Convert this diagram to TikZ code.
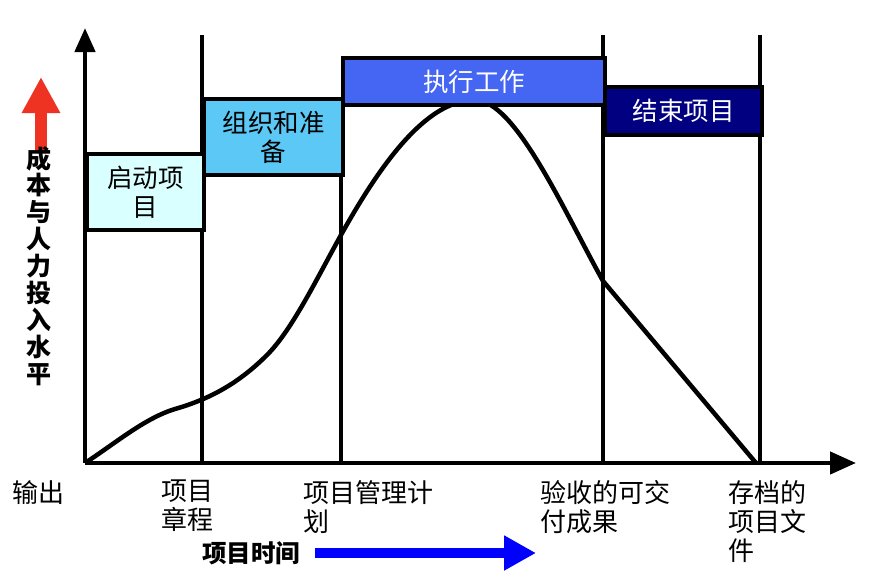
\documentclass[tikz,border=0pt]{standalone}
\usepackage{fontspec}
\setmainfont{Noto Sans CJK SC}
\usetikzlibrary{arrows.meta}
\definecolor{startfill}{HTML}{D9FFFF}
\definecolor{orgfill}{HTML}{5BC8F5}
\definecolor{execfill}{HTML}{4466F2}
\definecolor{closefill}{HTML}{000080}
\definecolor{costred}{HTML}{EE3322}
\definecolor{timeblue}{HTML}{0000FF}
\tikzset{
  phase/.style={draw, line width=4pt, anchor=north west, align=center, inner sep=0pt,
    font=\fontsize{25.5}{29}\selectfont},
  outlab/.style={anchor=north west, align=left, inner sep=0pt, font=\fontsize{26}{29}\selectfont},
  bar/.style={line width=4.5pt},
}
\begin{document}
\begin{tikzpicture}[x=1pt,y=-1pt]
    \useasboundingbox (0,0) rectangle (872,576);

    \coordinate (o) at (85,463);
    \coordinate (ytop) at (85,28);
    \coordinate (xend) at (856,463);

    \coordinate (m1top) at (202,35);   \coordinate (m1) at (202,463);
    \coordinate (m2top) at (341,100);  \coordinate (m2) at (341,463);
    \coordinate (m3top) at (603,35);   \coordinate (m3) at (603,463);
    \coordinate (m4top) at (760,35);   \coordinate (m4) at (760,463);

    \draw[bar] (m1top) -- (m1);
    \draw[bar] (m2top) -- (m2);
    \draw[bar] (m3top) -- (m3);
    \draw[bar] (m4top) -- (m4);

    \coordinate (peak) at (475,100);
    \coordinate (done) at (756,463);
    \draw[bar, line join=round] (o) .. controls (115,443.5) and (145,418) .. (175,409)
      .. controls (206,400) and (236,386) .. (267,355)
      .. controls (292,330) and (316,280) .. (341,235)
      .. controls (386,154) and (430,100) .. (peak)
      .. controls (515,100) and (563,209) .. (603,281)
      -- (done);

    \draw[bar, -{Triangle[width=20pt,length=24pt]}] (o) -- (ytop);
    \draw[bar, -{Triangle[width=22pt,length=26pt]}] (o) -- (xend);

    \node[phase, fill=startfill, minimum width=117pt, minimum height=76pt] (start) at (85,152) {启动项\\目};
    \node[phase, fill=orgfill, minimum width=139pt, minimum height=76pt] (org) at (202,97) {组织和准\\备};
    \node[phase, fill=execfill, text=white, minimum width=262pt, minimum height=47pt] (exec) at (341,56) {执行工作};
    \node[phase, fill=closefill, text=white, minimum width=157pt, minimum height=48pt] (close) at (603,85) {结束项目};

    \coordinate (costtail) at (41,152);
    \coordinate (costtip) at (41,77);
    \draw[costred, line width=12pt, -{Triangle[width=36pt,length=36pt]}] (costtail) -- (costtip);
    \node[anchor=north, align=center, inner sep=0pt, font=\fontsize{25}{26.9}\selectfont\bfseries] (cost) at (39,146)
      {成\\本\\与\\人\\力\\投\\入\\水\\平};

    \node[outlab] (out) at (12,480) {输出};
    \node[outlab] (charter) at (161,480) {项目\\章程};
    \node[outlab] (plan) at (303,480) {项目管理计\\划};
    \node[outlab] (accept) at (540,480) {验收的可交\\付成果};
    \node[outlab] (archive) at (728,480) {存档的\\项目文\\件};

    \node[anchor=west, inner sep=0pt, font=\fontsize{24.5}{28}\selectfont\bfseries] (time) at (202,553) {项目时间};
    \coordinate (timetail) at (315,553);
    \coordinate (timetip) at (536,553);
    \draw[timeblue, line width=10pt, -{Triangle[width=33pt,length=32pt]}] (timetail) -- (timetip);
\end{tikzpicture}
\end{document}
